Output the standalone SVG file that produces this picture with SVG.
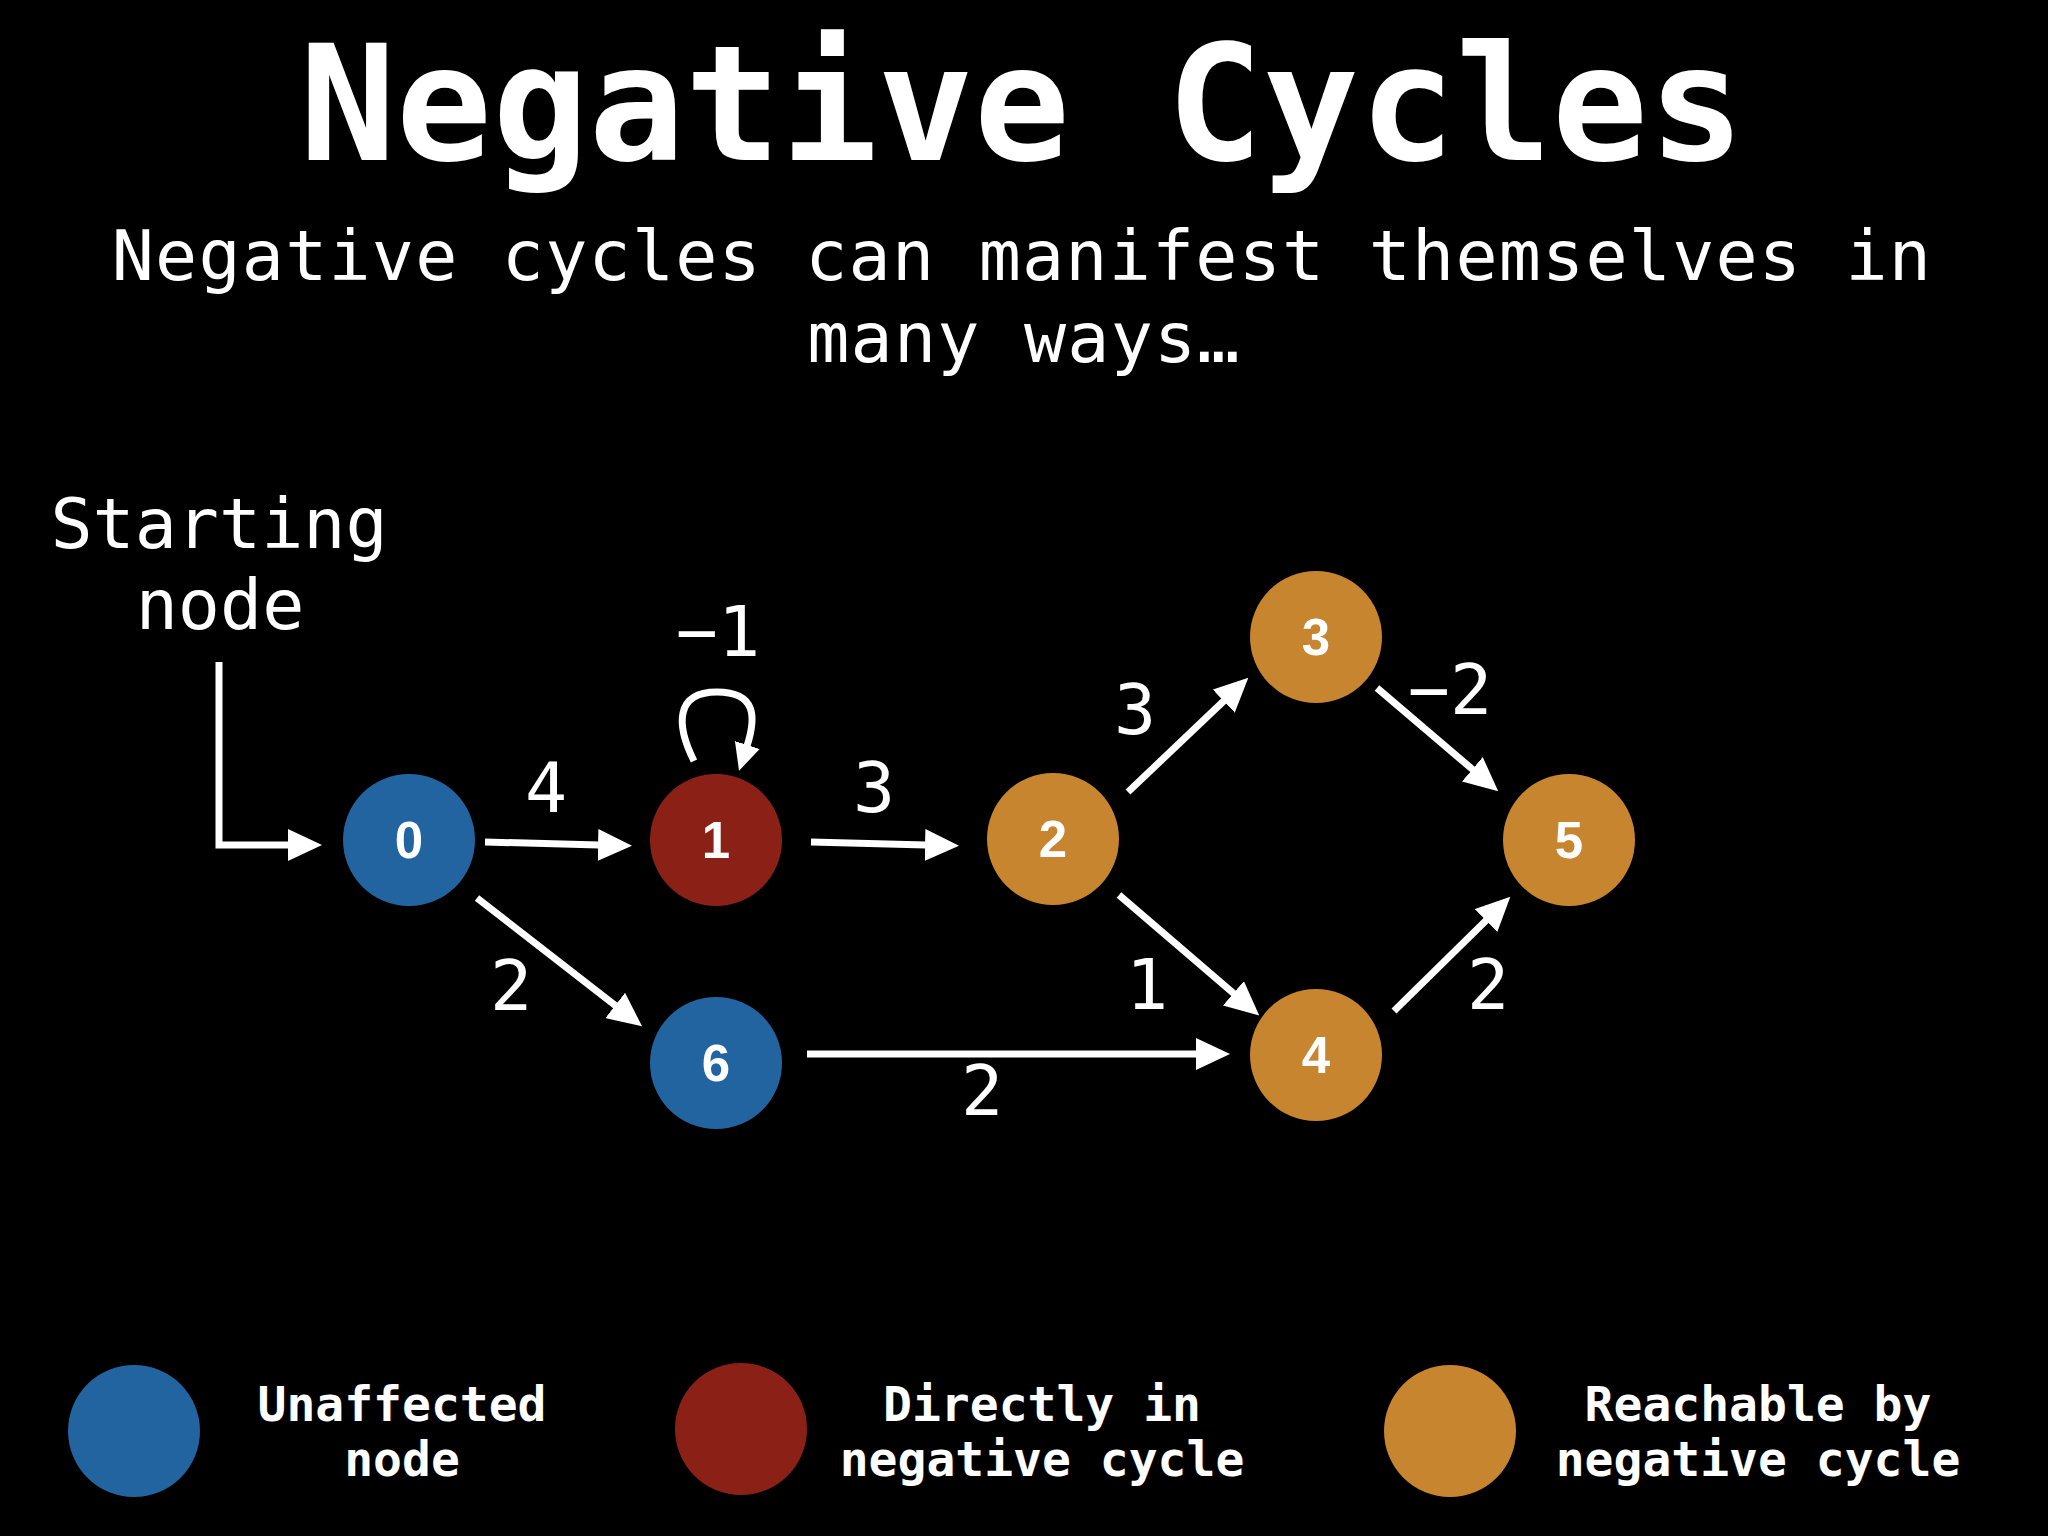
<svg xmlns="http://www.w3.org/2000/svg" width="2048" height="1536" viewBox="0 0 2048 1536">
<defs>
<style>
.bg{fill:#000}
.title{font-family:"DejaVu Sans Mono","Liberation Mono",monospace;font-weight:bold;fill:#fff;text-anchor:middle}
.mono{font-family:"DejaVu Sans Mono","Liberation Mono",monospace;fill:#fff;text-anchor:middle}
.lbl{font-family:"DejaVu Sans Mono","Liberation Mono",monospace;font-size:70px;fill:#fff;text-anchor:middle}
.leg{font-family:"DejaVu Sans Mono","Liberation Mono",monospace;font-weight:bold;font-size:48px;fill:#fff;text-anchor:middle}
.num{font-family:"Liberation Sans",Arial,sans-serif;font-weight:bold;font-size:51px;fill:#fff;text-anchor:middle}
.blue{fill:#2164a0}
.red{fill:#8b2116}
.orange{fill:#c8852f}
.edge{stroke:#fff;stroke-width:7;fill:none;marker-end:url(#arr)}
.loop{stroke:#fff;stroke-width:7;fill:none;marker-end:url(#arrs)}
</style>
<marker id="arr" markerUnits="userSpaceOnUse" viewBox="0 0 34 32" markerWidth="34" markerHeight="32" refX="1" refY="16" orient="auto">
<path d="M0,0 L34,16 L0,32 z" fill="#fff"/>
</marker>
<marker id="arrs" markerUnits="userSpaceOnUse" viewBox="0 0 27 26" markerWidth="27" markerHeight="26" refX="1" refY="13" orient="auto">
<path d="M0,0 L27,13 L0,26 z" fill="#fff"/>
</marker>
</defs>
<rect class="bg" x="0" y="0" width="2048" height="1536"/>

<text class="title" x="1022" y="160" font-size="160">Negative Cycles</text>
<text class="mono" x="1022" y="280" font-size="70" letter-spacing="1.2">Negative cycles can manifest themselves in</text>
<text class="mono" x="1024" y="362" font-size="70" letter-spacing="1.2">many ways…</text>

<text class="mono" x="219" y="548" font-size="70">Starting</text>
<text class="mono" x="220" y="629" font-size="70">node</text>

<g id="connectors">
<path class="edge" d="M219 662 V845 H289"/>
<path class="edge" d="M485 842 L599 845"/>
<path class="edge" d="M811 842 L926 845"/>
<path class="edge" d="M477 898 L616 1006"/>
<path class="edge" d="M807 1054 L1197 1054"/>
<path class="edge" d="M1128 792 L1224.4 700.4"/>
<path class="edge" d="M1119 895 L1234.2 993.9"/>
<path class="edge" d="M1377 688 L1473.1 769.9"/>
<path class="edge" d="M1394 1011 L1486.8 919.8"/>
<path class="loop" d="M694 761 C676 725 675 692 717 692 C757 692 756 718 747 746"/>
</g>

<g id="edge-labels">
<text class="lbl" x="546" y="812">4</text>
<text class="lbl" x="718" y="656">−1</text>
<text class="lbl" x="874" y="812">3</text>
<text class="lbl" x="1135" y="734">3</text>
<text class="lbl" x="1450" y="714">−2</text>
<text class="lbl" x="511" y="1010">2</text>
<text class="lbl" x="1147" y="1009">1</text>
<text class="lbl" x="1488" y="1009">2</text>
<text class="lbl" x="982" y="1115">2</text>
</g>

<g id="node-0"><circle class="blue" cx="409" cy="840" r="66"/><text class="num" x="409" y="858">0</text></g>
<g id="node-1"><circle class="red" cx="716" cy="840" r="66"/><text class="num" x="716" y="858">1</text></g>
<g id="node-2"><circle class="orange" cx="1053" cy="839" r="66"/><text class="num" x="1053" y="857">2</text></g>
<g id="node-3"><circle class="orange" cx="1316" cy="637" r="66"/><text class="num" x="1316" y="655">3</text></g>
<g id="node-4"><circle class="orange" cx="1316" cy="1055" r="66"/><text class="num" x="1316" y="1073">4</text></g>
<g id="node-5"><circle class="orange" cx="1569" cy="840" r="66"/><text class="num" x="1569" y="858">5</text></g>
<g id="node-6"><circle class="blue" cx="716" cy="1063" r="66"/><text class="num" x="716" y="1081">6</text></g>

<g id="legend">
<circle class="blue" cx="134" cy="1431" r="66"/>
<text class="leg" x="402" y="1421">Unaffected</text>
<text class="leg" x="402" y="1476">node</text>
<circle class="red" cx="741" cy="1429" r="66"/>
<text class="leg" x="1042" y="1421">Directly in</text>
<text class="leg" x="1042" y="1476">negative cycle</text>
<circle class="orange" cx="1450" cy="1431" r="66"/>
<text class="leg" x="1758" y="1421">Reachable by</text>
<text class="leg" x="1758" y="1476">negative cycle</text>
</g>
</svg>
